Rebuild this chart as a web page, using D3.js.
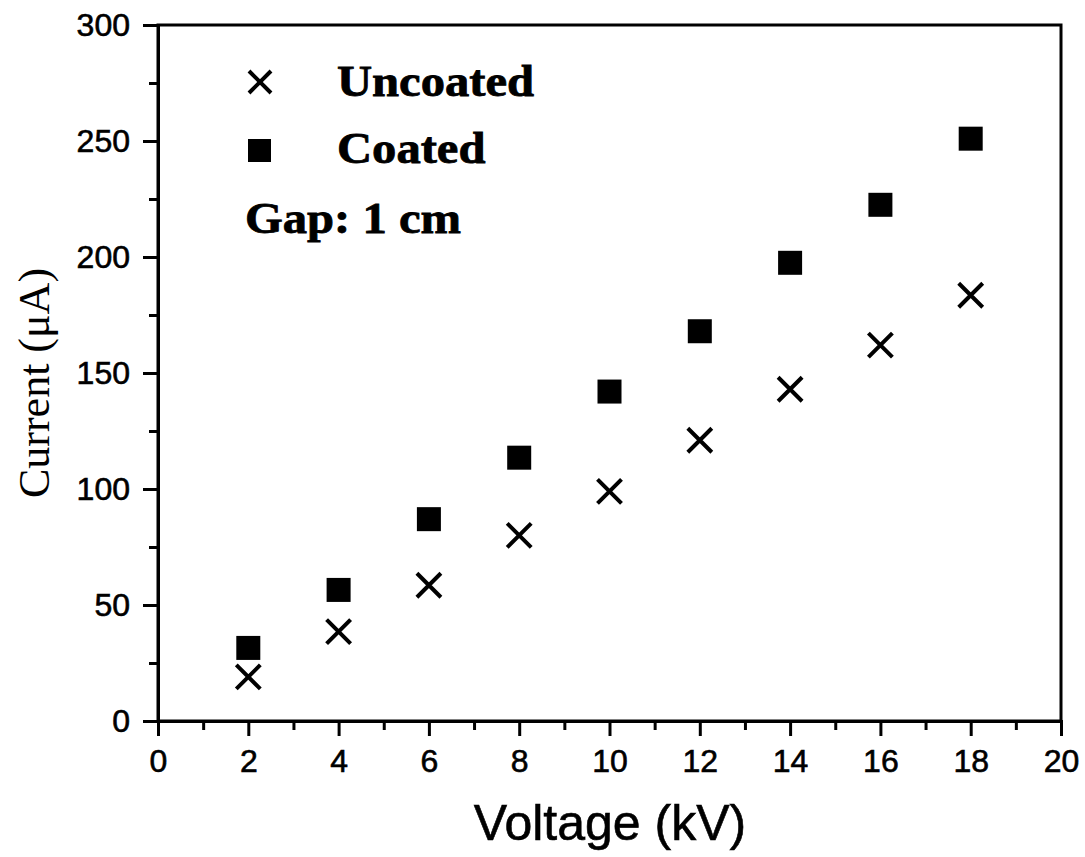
<!DOCTYPE html>
<html><head><meta charset="utf-8">
<script src="https://cdn.jsdelivr.net/npm/d3@7"></script>
<style>body{margin:0;background:#fff}</style>
</head><body>
<svg id="chart" width="1085" height="857"></svg>
<script>
const voltage = [2, 4, 6, 8, 10, 12, 14, 16, 18];
const uncoated = [19, 38.5, 58.5, 80, 99, 121, 143, 162, 183.5];
const coated = [31.5, 56.5, 87, 113.5, 142, 168, 197.5, 222.5, 251];
const xTicks = [0, 2, 4, 6, 8, 10, 12, 14, 16, 18, 20];
const yTicks = [0, 50, 100, 150, 200, 250, 300];
const legendLabels = ["Uncoated", "Coated"];
const note = "Gap: 1 cm";

const svg = d3.select("#chart");
const L = 158, R = 1061, T = 25, B = 721;
const x = d3.scaleLinear().domain([0, 20]).range([L, R]);
const y = d3.scaleLinear().domain([0, 300]).range([B, T]);

// frame
svg.append("rect").attr("x", L).attr("y", T).attr("width", R - L).attr("height", B - T)
  .attr("fill", "none").attr("stroke", "#000").attr("stroke-width", 3);

// x axis
svg.append("g").attr("transform", `translate(0,${B})`)
  .call(d3.axisBottom(x).tickValues(xTicks).tickSize(15).tickPadding(13).tickFormat(d3.format("d")));
svg.append("g").attr("transform", `translate(0,${B})`)
  .call(d3.axisBottom(x).tickValues(d3.range(1, 20, 2)).tickSize(9).tickFormat(""))
  .call(g => g.select(".domain").remove());
// y axis
svg.append("g").attr("transform", `translate(${L},0)`)
  .call(d3.axisLeft(y).tickValues(yTicks).tickSize(15).tickPadding(13).tickFormat(d3.format("d")));
svg.append("g").attr("transform", `translate(${L},0)`)
  .call(d3.axisLeft(y).tickValues(d3.range(25, 300, 50)).tickSize(9).tickFormat(""))
  .call(g => g.select(".domain").remove());

svg.selectAll(".domain").attr("stroke-width", 3);
svg.selectAll(".tick line").attr("stroke-width", 3);
svg.selectAll(".tick text").attr("font-family", "Liberation Sans, Arial, sans-serif")
  .attr("font-size", 32).attr("fill", "#000").attr("stroke", "#000").attr("stroke-width", 0.6);

// axis titles
svg.append("text").attr("x", 610).attr("y", 840).attr("text-anchor", "middle")
  .attr("font-family", "Liberation Sans, Arial, sans-serif").attr("font-size", 50)
  .attr("stroke", "#000").attr("stroke-width", 0.6)
  .text("Voltage (kV)");
svg.append("text").attr("transform", `translate(49,383) rotate(-90)`)
  .attr("text-anchor", "middle")
  .attr("font-family", "Liberation Serif, Times New Roman, serif").attr("font-size", 44)
  .text("Current (μA)");

// markers
const xs = 12;
function cross(g, cx, cy, s) {
  g.append("path").attr("d", `M${cx - s},${cy - s}L${cx + s},${cy + s}M${cx - s},${cy + s}L${cx + s},${cy - s}`)
    .attr("stroke", "#000").attr("stroke-width", 4).attr("fill", "none");
}
const sq = 24;
const gU = svg.append("g");
voltage.forEach((v, i) => cross(gU, x(v), y(uncoated[i]), xs));
svg.append("g").selectAll("rect").data(voltage).join("rect")
  .attr("x", d => x(d) - sq / 2).attr("y", (d, i) => y(coated[i]) - sq / 2)
  .attr("width", sq).attr("height", sq).attr("fill", "#000");

// legend
const lg = svg.append("g");
cross(lg, 260, 82, 11);
lg.append("rect").attr("x", 248).attr("y", 139).attr("width", 23).attr("height", 23).attr("fill", "#000");
const ft = "Liberation Serif, Times New Roman, serif";
function ltext(tx, ty, s) {
  lg.append("text").attr("transform", `translate(${tx},${ty}) scale(1.08,1)`)
    .attr("font-family", ft).attr("font-weight", "bold").attr("font-size", 45)
    .attr("stroke", "#000").attr("stroke-width", 0.8).text(s);
}
ltext(337, 96, legendLabels[0]);
ltext(337, 163, legendLabels[1]);
ltext(245, 233, note);
</script>
</body></html>
